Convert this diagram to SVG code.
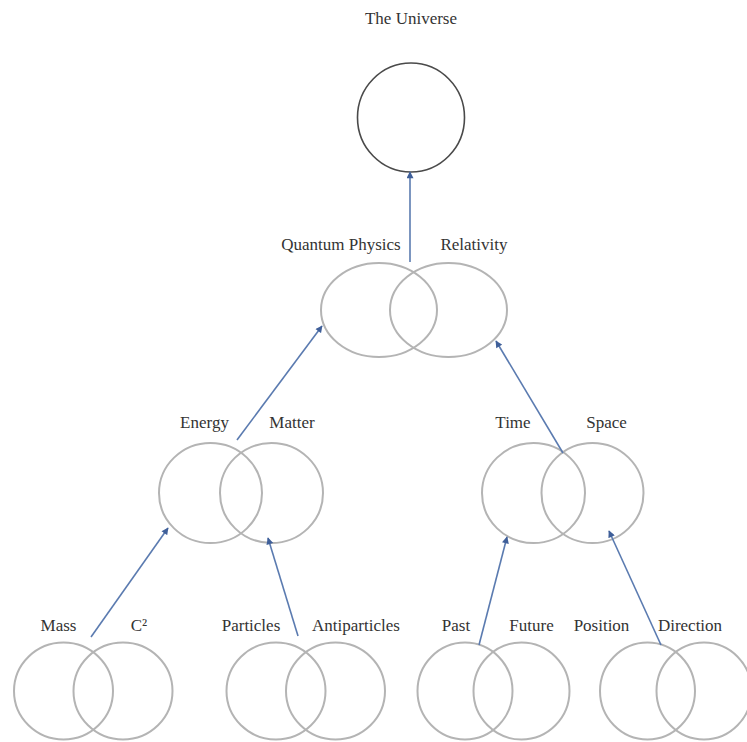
<svg xmlns="http://www.w3.org/2000/svg" width="747" height="742" viewBox="0 0 747 742">
<defs>
<style>
.c{fill:none;stroke:#b4b4b4;stroke-width:2}
.top{fill:none;stroke:#4a4a4a;stroke-width:1.6}
.t{font-family:"Liberation Serif","Times New Roman",serif;font-size:17px;fill:#333;text-anchor:middle}
.e{stroke:#5b7bb0;stroke-width:1.6;fill:none;marker-end:url(#ah)}
</style>
<marker id="ah" viewBox="0 0 10 10" refX="9" refY="5" markerWidth="8" markerHeight="7" markerUnits="userSpaceOnUse" orient="auto">
<path d="M0,0 L10,5 L0,10 z" fill="#3f5f99"/>
</marker>
</defs>
<rect width="747" height="742" fill="#fff"/>

<g id="universe">
<text class="t" x="411" y="24">The Universe</text>
<ellipse class="top" cx="411" cy="117.5" rx="53.5" ry="54.5"/>
</g>

<g id="quantum-relativity">
<text class="t" x="341" y="250">Quantum Physics</text>
<text class="t" x="474" y="250">Relativity</text>
<ellipse class="c" cx="379" cy="310" rx="58" ry="47"/>
<ellipse class="c" cx="448.5" cy="310" rx="58.5" ry="47"/>
</g>

<g id="energy-matter">
<text class="t" x="204.5" y="428">Energy</text>
<text class="t" x="292" y="428">Matter</text>
<ellipse class="c" cx="210.5" cy="493" rx="51.5" ry="50"/>
<ellipse class="c" cx="271.5" cy="493" rx="51.5" ry="50"/>
</g>

<g id="time-space">
<text class="t" x="513" y="428">Time</text>
<text class="t" x="606.5" y="428">Space</text>
<ellipse class="c" cx="533.5" cy="493" rx="51.5" ry="50"/>
<ellipse class="c" cx="592.5" cy="493" rx="51" ry="50"/>
</g>

<g id="mass-c2">
<text class="t" x="58.5" y="631">Mass</text>
<text class="t" x="139" y="631">C²</text>
<ellipse class="c" cx="63.5" cy="691" rx="49.5" ry="48.5"/>
<ellipse class="c" cx="123" cy="691" rx="49.5" ry="48.5"/>
</g>

<g id="particles-antiparticles">
<text class="t" x="251" y="631">Particles</text>
<text class="t" x="356" y="631">Antiparticles</text>
<ellipse class="c" cx="276" cy="691" rx="49.5" ry="48.5"/>
<ellipse class="c" cx="335.5" cy="691" rx="49.5" ry="48.5"/>
</g>

<g id="past-future">
<text class="t" x="456" y="631">Past</text>
<text class="t" x="531.5" y="631">Future</text>
<ellipse class="c" cx="465" cy="691" rx="47.5" ry="48.5"/>
<ellipse class="c" cx="521.5" cy="691" rx="48" ry="48.5"/>
</g>

<g id="position-direction">
<text class="t" x="601.5" y="631">Position</text>
<text class="t" x="690" y="631">Direction</text>
<ellipse class="c" cx="647.5" cy="691" rx="47.5" ry="48.5"/>
<ellipse class="c" cx="704" cy="691" rx="47.5" ry="48.5"/>
</g>

<g id="connectors">
<line class="e" x1="410" y1="262" x2="410" y2="172"/>
<line class="e" x1="237" y1="440" x2="322" y2="326"/>
<line class="e" x1="563" y1="453" x2="496" y2="341"/>
<line class="e" x1="91" y1="637" x2="168" y2="528"/>
<line class="e" x1="298" y1="636" x2="268" y2="538"/>
<line class="e" x1="479" y1="645" x2="507" y2="537"/>
<line class="e" x1="661" y1="645" x2="609" y2="531"/>
</g>
</svg>
